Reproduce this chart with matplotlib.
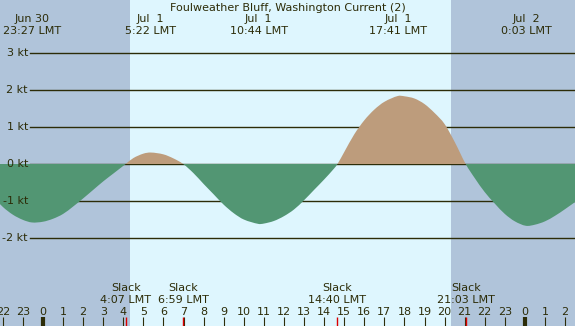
import numpy as np
import matplotlib
matplotlib.use("Agg")
import matplotlib.pyplot as plt
from matplotlib.path import Path
from matplotlib.patches import PathPatch, Rectangle

# hours from midnight Jul 1 (negative = Jun 30), current speed in knots
hours = [-2.5, -2.0, -1.5, -1.0, -0.55, 0.0, 0.5, 1.0, 1.5, 2.0, 2.5, 3.0, 3.5, 4.0, 4.117,
         4.5, 5.0, 5.367, 6.0, 6.5, 6.983,
         7.5, 8.0, 8.5, 9.0, 9.5, 10.0, 10.733, 11.0, 11.5, 12.0, 12.5, 13.0, 13.5, 14.0, 14.5, 14.667,
         15.0, 15.5, 16.0, 16.5, 17.0, 17.683, 18.0, 18.5, 19.0, 19.5, 20.0, 20.5, 21.05,
         21.5, 22.0, 22.5, 23.0, 23.5, 24.05, 24.5, 25.0, 25.5, 26.0, 26.7]
speed = [-0.88, -1.16, -1.37, -1.51, -1.58, -1.56, -1.48, -1.35, -1.15, -0.93, -0.70, -0.47, -0.26, -0.05, 0.0,
         0.16, 0.28, 0.31, 0.26, 0.15, 0.0,
         -0.25, -0.54, -0.82, -1.10, -1.33, -1.50, -1.62, -1.61, -1.54, -1.41, -1.23, -0.98, -0.70, -0.42, -0.12, 0.0,
         0.32, 0.80, 1.18, 1.47, 1.68, 1.84, 1.83, 1.77, 1.62, 1.38, 1.08, 0.60, 0.0,
         -0.38, -0.76, -1.07, -1.35, -1.55, -1.67, -1.64, -1.55, -1.40, -1.22, -0.95]

# max current events shown at the top
event_hours = [-0.55, 5.367, 10.733, 17.683, 24.05]
event_dates = ["Jun 30", "Jul  1", "Jul  1", "Jul  1", "Jul  2"]
event_times = ["23:27 LMT", "5:22 LMT", "10:44 LMT", "17:41 LMT", "0:03 LMT"]

# slack water events shown at the bottom
slack_hours = [4.117, 6.983, 14.667, 21.05]
slack_times = ["4:07 LMT", "6:59 LMT", "14:40 LMT", "21:03 LMT"]

sunrise = 4.33
sunset = 20.33
kt_levels = [-2, -1, 0, 1, 2, 3]

night = "#b0c4da"
day = "#def6fe"
flood = "#bd9c7c"
ebb = "#529673"
ink = "#2c2c08"


def smooth_path(xs, ys):
    # hermite curve through the read points, drawn as cubic bezier segments
    n = len(xs)
    m = np.zeros(n)
    m[1:-1] = (ys[2:] - ys[:-2]) / (xs[2:] - xs[:-2])
    m[0] = (ys[1] - ys[0]) / (xs[1] - xs[0])
    m[-1] = (ys[-1] - ys[-2]) / (xs[-1] - xs[-2])
    verts = [(xs[0], 0.0), (xs[0], ys[0])]
    codes = [Path.MOVETO, Path.LINETO]
    for i in range(n - 1):
        dx = xs[i + 1] - xs[i]
        verts += [(xs[i] + dx / 3, ys[i] + m[i] * dx / 3),
                  (xs[i + 1] - dx / 3, ys[i + 1] - m[i + 1] * dx / 3),
                  (xs[i + 1], ys[i + 1])]
        codes += [Path.CURVE4] * 3
    verts += [(xs[-1], 0.0), (xs[0], 0.0)]
    codes += [Path.LINETO, Path.CLOSEPOLY]
    return Path(verts, codes)


W, H = 575, 326
x0, x1 = -2.141, 26.495
fig = plt.figure(figsize=(W / 100, H / 100), dpi=100)
ax = fig.add_axes([0, 0, 1, 1])
ax.set_xlim(x0, x1)
ax.set_ylim(-162 / 37, 164 / 37)
ax.axis("off")
fig.patch.set_facecolor(day)
ax.axvspan(x0 - 1, sunrise, color=night, lw=0, zorder=0)
ax.axvspan(sunset, x1 + 1, color=night, lw=0, zorder=0)

for k in kt_levels:
    ax.axhline(k, xmin=30 / W, xmax=1, color=ink, lw=1.0, zorder=1)
    ax.text(28 / W, k, "%d kt" % k, transform=ax.get_yaxis_transform(),
            ha="right", va="center", fontsize=8, color=ink, zorder=3)

path = smooth_path(np.array(hours, float), np.array(speed, float))
ebb_patch = PathPatch(path, facecolor=ebb, lw=0, zorder=2)
ax.add_patch(ebb_patch)
ebb_patch.set_clip_path(Rectangle((x0 - 1, -10), x1 - x0 + 2, 10, transform=ax.transData))
flood_patch = PathPatch(path, facecolor=flood, lw=0, zorder=2.1)
ax.add_patch(flood_patch)
flood_patch.set_clip_path(Rectangle((x0 - 1, 0), x1 - x0 + 2, 10, transform=ax.transData))

tr = ax.get_xaxis_transform()
ax.text((x0 + x1) / 2, 1 - 8 / H, "Foulweather Bluff, Washington Current (2)", transform=tr,
        ha="center", va="center", fontsize=8, color=ink)
for h, d, s in zip(event_hours, event_dates, event_times):
    ax.text(h, 1 - 19 / H, d, transform=tr, ha="center", va="center", fontsize=8, color=ink)
    ax.text(h, 1 - 31 / H, s, transform=tr, ha="center", va="center", fontsize=8, color=ink)

for h, s in zip(slack_hours, slack_times):
    ax.text(h, 1 - 288 / H, "Slack", transform=tr, ha="center", va="center", fontsize=8, color=ink)
    ax.text(h, 1 - 300 / H, s, transform=tr, ha="center", va="center", fontsize=8, color=ink)

for h in range(-2, 27):
    ax.text(h, 1 - 312 / H, str(h % 24), transform=tr, ha="center", va="center",
            fontsize=8, color=ink)
    lw = 3 if h % 24 == 0 else 0.8
    ax.vlines(h, 0, 9 / H, transform=tr, color=ink, lw=lw)
ax.vlines(slack_hours, 0, 9 / H, transform=tr, color="#dd0000", lw=1.0)

fig.savefig("out.png", dpi=100)
